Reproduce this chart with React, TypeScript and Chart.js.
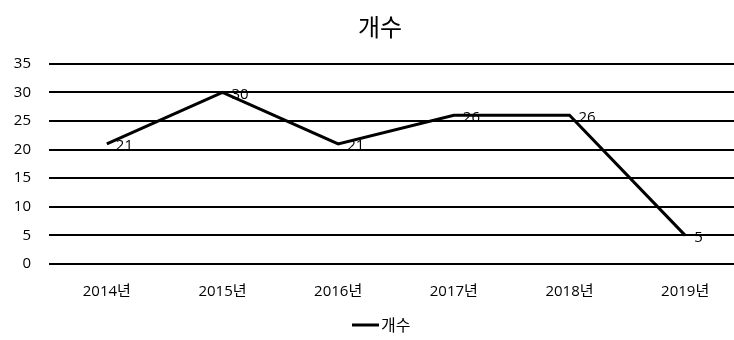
import React, { useEffect, useRef } from "react";
import { Chart, registerables } from "chart.js";

Chart.register(...registerables);

const categories = ["2014년", "2015년", "2016년", "2017년", "2018년", "2019년"];
const seriesName = "개수";
const values = [21, 30, 21, 26, 26, 5];
const titleText = "개수";

const FONT = "'Open Sans', 'Noto Sans CJK KR', sans-serif";
const CJK = "'Noto Sans CJK KR', sans-serif";

const labelPlugin = {
  id: "pointLabels",
  afterDatasetsDraw(chart: any) {
    const ctx = chart.ctx;
    ctx.save();
    ctx.font = `15px ${FONT}`;
    ctx.fillStyle = "#000";
    ctx.textAlign = "left";
    ctx.textBaseline = "middle";
    chart.data.datasets.forEach((ds: any, di: number) => {
      const meta = chart.getDatasetMeta(di);
      meta.data.forEach((pt: any, i: number) => {
        ctx.fillText(String(ds.data[i]), pt.x + 9, pt.y + 2);
      });
    });
    ctx.restore();
  },
};

const titleLegendPlugin = {
  id: "titleLegend",
  afterDraw(chart: any) {
    const ctx = chart.ctx;
    const ds = chart.data.datasets[0];
    ctx.save();
    // title, centred on the full (uncropped) chart width
    const tb = chart.titleBlock;
    ctx.fillStyle = "#000";
    ctx.font = `24px ${CJK}`;
    ctx.textAlign = "center";
    ctx.textBaseline = "middle";
    const ty = tb ? tb.top + 12 + 14.4 : 26;
    ctx.fillText(titleText, 380, ty);
    // legend
    const cy = 325;
    ctx.strokeStyle = ds.borderColor;
    ctx.lineWidth = ds.borderWidth;
    ctx.beginPath();
    ctx.moveTo(352, cy);
    ctx.lineTo(379, cy);
    ctx.stroke();
    ctx.font = `16px ${CJK}`;
    ctx.textAlign = "left";
    ctx.fillText(ds.label, 381, cy);
    ctx.restore();
  },
};

export default function App() {
  const ref = useRef<HTMLCanvasElement>(null);
  useEffect(() => {
    if (!ref.current) return;
    const chart = new Chart(ref.current, {
      type: "line",
      data: {
        labels: categories,
        datasets: [
          {
            label: seriesName,
            data: values,
            borderColor: "#000",
            backgroundColor: "#000",
            borderWidth: 3,
            pointRadius: 0,
            tension: 0,
          },
        ],
      },
      options: {
        animation: false,
        responsive: false,
        maintainAspectRatio: false,
        layout: { padding: { left: 0, right: 17, top: 0, bottom: 30 } },
        plugins: {
          title: {
            display: true,
            text: titleText,
            color: "rgba(0,0,0,0)",
            font: { family: CJK, size: 24, weight: "normal" },
            padding: { top: 12, bottom: 23 },
          },
          legend: { display: false },
          tooltip: { enabled: false },
        },
        scales: {
          x: {
            offset: true,
            grid: { display: false, drawTicks: false },
            border: { display: false },
            ticks: {
              color: "#000",
              font: { family: FONT, size: 15 },
              padding: 19,
              maxRotation: 0,
            },
            afterFit: (s: any) => {
              s.height = 46;
            },
          },
          y: {
            min: 0,
            max: 35,
            grid: { color: "#000", lineWidth: 2, drawTicks: false },
            border: { display: false },
            ticks: {
              stepSize: 5,
              color: "#000",
              font: { family: FONT, size: 15 },
              padding: 18,
            },
            afterFit: (s: any) => {
              s.width = 49;
            },
          },
        },
      },
      plugins: [labelPlugin, titleLegendPlugin],
    });
    return () => chart.destroy();
  }, []);
  return (
    <div style={{ position: "fixed", left: 0, top: 0, width: 760, height: 340, background: "#fff" }}>
      <canvas ref={ref} width={760} height={340} style={{ width: 760, height: 340 }} />
    </div>
  );
}
